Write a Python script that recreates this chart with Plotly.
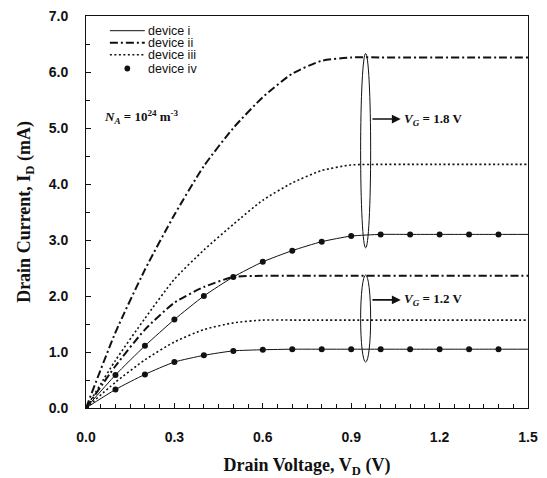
import plotly.graph_objects as go

# ---------------- data ----------------
vd = [0.0, 0.1, 0.2, 0.3, 0.4, 0.5, 0.6, 0.7, 0.8, 0.9, 1.0, 1.1, 1.2, 1.3, 1.4, 1.5]
vd_iv = [0.0, 0.1, 0.2, 0.3, 0.4, 0.5, 0.6, 0.7, 0.8, 0.9, 1.0, 1.1, 1.2, 1.3, 1.4]

# V_G = 1.8 V
dev_i_18 = [0, 0.59, 1.11, 1.58, 2.00, 2.34, 2.61, 2.81, 2.97, 3.07, 3.10, 3.10, 3.10, 3.10, 3.10, 3.10]
dev_ii_18 = [0, 1.35, 2.47, 3.45, 4.32, 5.00, 5.55, 5.97, 6.20, 6.26, 6.26, 6.26, 6.26, 6.26, 6.26, 6.26]
dev_iii_18 = [0, 0.85, 1.60, 2.30, 2.82, 3.28, 3.71, 4.02, 4.24, 4.34, 4.35, 4.35, 4.35, 4.35, 4.35, 4.35]
dev_iv_18 = [0, 0.59, 1.11, 1.58, 2.00, 2.34, 2.61, 2.81, 2.97, 3.07, 3.10, 3.10, 3.10, 3.10, 3.10]

# V_G = 1.2 V
dev_i_12 = [0, 0.33, 0.60, 0.82, 0.94, 1.02, 1.04, 1.05, 1.05, 1.05, 1.05, 1.05, 1.05, 1.05, 1.05, 1.05]
dev_ii_12 = [0, 0.75, 1.40, 1.88, 2.16, 2.34, 2.36, 2.36, 2.36, 2.36, 2.36, 2.36, 2.36, 2.36, 2.36, 2.36]
dev_iii_12 = [0, 0.46, 0.86, 1.18, 1.40, 1.52, 1.57, 1.57, 1.57, 1.57, 1.57, 1.57, 1.57, 1.57, 1.57, 1.57]
dev_iv_12 = [0, 0.33, 0.60, 0.82, 0.94, 1.02, 1.04, 1.05, 1.05, 1.05, 1.05, 1.05, 1.05, 1.05, 1.05]

legend_names = ["device i", "device ii", "device iii", "device iv"]
x_ticks = [0.0, 0.3, 0.6, 0.9, 1.2, 1.5]
y_ticks = [0, 1, 2, 3, 4, 5, 6, 7]

# ---------------- styles ----------------
BLACK = "#111111"
sty_i = dict(color=BLACK, width=1.0, shape="spline", smoothing=0.6)
sty_ii = dict(color=BLACK, width=2.0, dash="8px,3px,2px,3px", shape="spline", smoothing=0.6)
sty_iii = dict(color=BLACK, width=1.6, dash="2px,2.5px", shape="spline", smoothing=0.6)
mk_iv = dict(color=BLACK, size=6, symbol="circle")

fig = go.Figure()
for ys in (dev_i_18, dev_i_12):
    fig.add_trace(go.Scatter(x=vd, y=ys, mode="lines", line=sty_i, showlegend=False, name="device i"))
for ys in (dev_ii_18, dev_ii_12):
    fig.add_trace(go.Scatter(x=vd, y=ys, mode="lines", line=sty_ii, showlegend=False, name="device ii"))
for ys in (dev_iii_18, dev_iii_12):
    fig.add_trace(go.Scatter(x=vd, y=ys, mode="lines", line=sty_iii, showlegend=False, name="device iii"))
for ys in (dev_iv_18, dev_iv_12):
    fig.add_trace(go.Scatter(x=vd_iv, y=ys, mode="markers", marker=mk_iv, showlegend=False, name="device iv"))

# ---------------- manual legend ----------------
leg_rows = [0.9625, 0.932, 0.901, 0.866]
leg_x0, leg_x1, leg_tx = 0.054, 0.133, 0.138
leg_dash = ["solid", "8px,3px,2px,3px", "2px,2.5px", None]
leg_w = [1.0, 2.0, 1.6, None]
shapes = []
annotations = []
for name, yy, dsh, w in zip(legend_names, leg_rows, leg_dash, leg_w):
    if dsh is not None:
        shapes.append(dict(type="line", xref="paper", yref="paper", x0=leg_x0, x1=leg_x1, y0=yy, y1=yy,
                           line=dict(color=BLACK, width=w, dash=dsh)))
    else:
        cx = (leg_x0 + leg_x1) / 2
        shapes.append(dict(type="circle", xref="paper", yref="paper", x0=cx - 0.0065, x1=cx + 0.0065,
                           y0=yy - 0.0075, y1=yy + 0.0075, fillcolor=BLACK, line=dict(color=BLACK, width=0)))
    annotations.append(dict(xref="paper", yref="paper", x=leg_tx, y=yy, text=name, showarrow=False,
                            xanchor="left", yanchor="middle", borderpad=0,
                            font=dict(family="Liberation Sans, Arial", size=12.5, color=BLACK)))

# ---------------- ellipses & labels ----------------
shapes.append(dict(type="circle", xref="x", yref="y", x0=0.932, x1=0.966, y0=2.86, y1=6.33,
                   line=dict(color=BLACK, width=1)))
shapes.append(dict(type="circle", xref="x", yref="y", x0=0.932, x1=0.966, y0=0.82, y1=2.375,
                   line=dict(color=BLACK, width=1)))

for yv, lbl in ((5.16, "1.8"), (1.93, "1.2")):
    annotations.append(dict(x=1.068, y=yv, ax=0.967, ay=yv, xref="x", yref="y", axref="x", ayref="y",
                            text="", showarrow=True, arrowhead=2, arrowsize=1.1, arrowwidth=1.6,
                            arrowcolor=BLACK))
    annotations.append(dict(x=1.072, y=yv, xref="x", yref="y", xanchor="left", yanchor="middle",
                            showarrow=False,
                            text="<b><i>V</i><sub><i>G</i></sub> = " + lbl + " V</b>",
                            font=dict(family="Liberation Serif, Times New Roman", size=13, color=BLACK)))

annotations.append(dict(x=0.054, y=5.2, xref="x", yref="y", xanchor="left", yanchor="middle",
                        showarrow=False,
                        text="<b><i>N</i><sub><i>A</i></sub> = 10<sup>24</sup> m<sup>-3</sup></b>",
                        font=dict(family="Liberation Serif, Times New Roman", size=13, color=BLACK)))

axis_common = dict(showline=True, linecolor=BLACK, linewidth=1, mirror=True, showgrid=False,
                   zeroline=False, ticks="inside", ticklen=5, tickcolor=BLACK, tickwidth=1,
                   automargin=False,
                   tickfont=dict(family="Liberation Sans, Arial", size=14, color=BLACK, weight="bold"))

fig.update_layout(
    width=547, height=478,
    margin=dict(l=86, r=19, t=16, b=70),
    paper_bgcolor="white", plot_bgcolor="white",
    shapes=shapes, annotations=annotations,
    xaxis=dict(range=[0, 1.5], tickvals=x_ticks, ticktext=[f"{v:.1f}" for v in x_ticks],
               minor=dict(dtick=0.05, ticks="inside", ticklen=4, tickcolor=BLACK, showgrid=False),
               ticklabelstandoff=16,
               title=dict(text="<b>Drain Voltage, V<sub>D</sub> (V)</b>", standoff=16,
                          font=dict(family="Liberation Serif, Times New Roman", size=18, color=BLACK)),
               **axis_common),
    yaxis=dict(range=[0, 7], tickvals=y_ticks, ticktext=[f"{v:.1f}" for v in y_ticks],
               minor=dict(dtick=0.5, ticks="inside", ticklen=4, tickcolor=BLACK, showgrid=False),
               ticklabelstandoff=14,
               title=dict(text="<b>Drain Current, I<sub>D</sub> (mA)</b>", standoff=13,
                          font=dict(family="Liberation Serif, Times New Roman", size=18, color=BLACK)),
               **axis_common),
    showlegend=False,
)

fig.write_html("out.html",
               config={"displayModeBar": False},
               post_script="document.body.style.margin='0';document.body.style.padding='0';document.body.style.overflow='hidden';")
